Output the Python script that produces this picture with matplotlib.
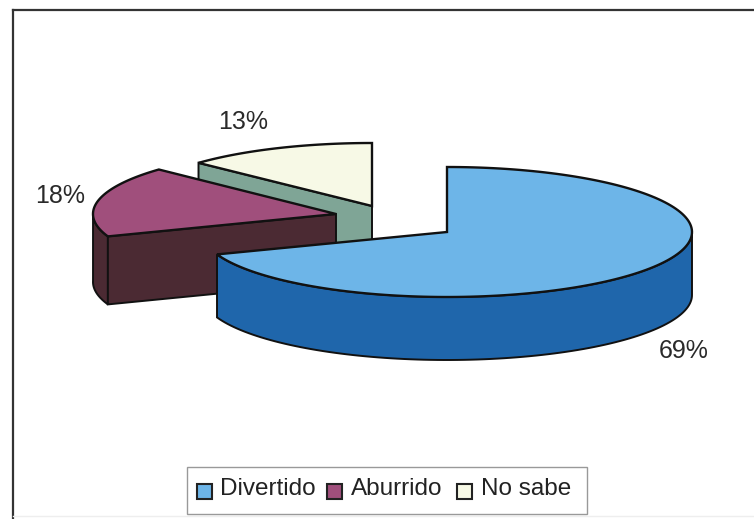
import numpy as np
import matplotlib
matplotlib.use('Agg')
import matplotlib.pyplot as plt
from matplotlib.patches import Polygon, Rectangle

categories = ['Divertido', 'Aburrido', 'No sabe']
# sizes as read from the slice edges, they round to the printed labels
values = [69.4, 17.6, 13.0]
labels = ['69%', '18%', '13%']
top_colors = ['#6db5e8', '#a04f7c', '#f7f9e6']
wall_colors = ['#1f66ab', '#4b2a33', '#7fa596']

# pixel coordinates, same as the picture
W, H = 754, 519
centers = [(447, 232), (336, 214), (372, 206)]
radii_x = [245, 243, 238]
radii_y = [65, 65, 63]
depths = [63, 68, 63]
# big slice shows no cut face, the other two show the one at their start angle
has_cut_face = [False, True, True]

plt.rcParams['font.family'] = ['Liberation Sans', 'DejaVu Sans']
fig = plt.figure(figsize=(W / 100, H / 100), dpi=100)
ax = fig.add_axes([0, 0, 1, 1])
ax.set_xlim(0, W)
ax.set_ylim(H, 0)
ax.axis('off')

# chart frame, only left and top survive in the scan
ax.plot([13, 13], [H, 10], color='#333333', lw=1.6)
ax.plot([13, W], [10, 10], color='#333333', lw=1.6)
ax.plot([13, W], [516, 516], color='#eeeeee', lw=1)

# slice angles clockwise from 12 o'clock
cum = np.cumsum([0] + values) / 100 * 2 * np.pi
starts = np.pi / 2 - cum[:-1]
ends = np.pi / 2 - cum[1:]

# back slices first, the big one goes on top
for i in [2, 1, 0]:
    cx, cy = centers[i]
    depth = depths[i]
    z = 5 - i
    t = np.linspace(starts[i], ends[i], 160)
    x = cx + radii_x[i] * np.cos(t)
    y = cy - radii_y[i] * np.sin(t)

    # outer wall, only the part facing front
    front = np.sin(t) < 0.02
    if front.any():
        xf, yf = x[front], y[front]
        pts = np.r_[np.c_[xf, yf], np.c_[xf, yf + depth][::-1]]
        ax.add_patch(Polygon(pts, fc=wall_colors[i], ec='#111111', lw=1.4, zorder=z))

    # cut wall
    if has_cut_face[i]:
        ax.add_patch(Polygon([(cx, cy), (x[0], y[0]), (x[0], y[0] + depth), (cx, cy + depth)],
                             fc=wall_colors[i], ec='#111111', lw=1.4, zorder=z))

    ax.add_patch(Polygon(np.r_[[(cx, cy)], np.c_[x, y]], fc=top_colors[i], ec='#111111',
                         lw=1.7, zorder=z))

ax.text(684, 351, labels[0], ha='center', va='center', fontsize=18, color='#2a2a2a')
ax.text(60, 196, labels[1], ha='center', va='center', fontsize=18, color='#2a2a2a')
ax.text(243, 122, labels[2], ha='center', va='center', fontsize=18, color='#2a2a2a')

# legend box
ax.add_patch(Rectangle((187, 467), 400, 47, fc='white', ec='#999999', lw=1, zorder=8))
for sx, tx, c, name in zip([197, 327, 457], [220, 351, 481], top_colors, categories):
    ax.add_patch(Rectangle((sx, 484), 15, 15, fc=c, ec='#222222', lw=1.5, zorder=9))
    ax.text(tx, 489, name, ha='left', va='center', fontsize=17.5, color='#222222', zorder=9)

fig.savefig('out.png', dpi=100, facecolor='white')
